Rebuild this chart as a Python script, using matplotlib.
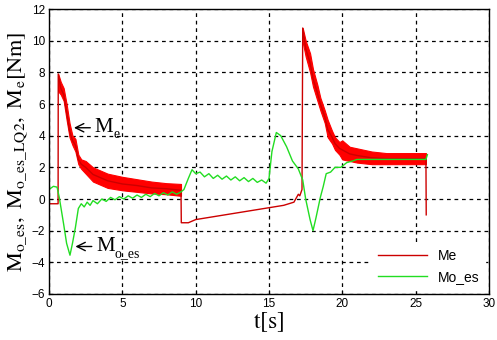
# Me / Mo_es torque plot
import numpy as np
import matplotlib
matplotlib.use('Agg')
import matplotlib.pyplot as plt

plt.rcParams['mathtext.fontset'] = 'stix'

# Me thin line (time [s], torque [Nm])
me_t = [0, 0.62, 0.63, 0.8, 1.0, 1.2, 1.4, 1.6, 1.8, 2.0, 2.2, 2.5, 3.0, 4.0, 5.0, 6.0, 7.0, 8.0,
        9.0, 9.02, 9.5, 10, 11, 12, 13, 14, 15, 16, 16.7, 17.0, 17.1, 17.25, 17.3, 17.5, 17.8,
        18.0, 18.3, 18.5, 18.8, 19.0, 19.3, 19.5, 19.8, 20.0, 20.5, 21, 22, 23, 24, 25, 25.7, 25.72]
me_v = [-0.3, -0.3, 7.9, 7.0, 6.6, 5.5, 4.3, 3.7, 3.4, 2.5, 2.2, 2.0, 1.55, 1.15, 0.95, 0.85, 0.7, 0.65,
        0.55, -1.5, -1.5, -1.3, -1.15, -1.0, -0.85, -0.7, -0.55, -0.4, -0.2, 0.3, 0.2, 0.6, 10.8, 9.5, 8.6,
        7.6, 6.7, 6.0, 5.2, 4.4, 3.9, 3.5, 3.2, 3.1, 2.85, 2.75, 2.6, 2.55, 2.55, 2.55, 2.55, -1.0]

# oscillation envelope of Me, first step
band1_t = [0.63, 0.8, 1.0, 1.2, 1.4, 1.6, 1.8, 2.0, 2.2, 2.5, 3.0, 4.0, 5.0, 6.0, 7.0, 8.0, 9.0]
band1_lo = [6.8, 6.6, 6.2, 5.0, 3.9, 3.4, 3.0, 2.2, 1.9, 1.6, 1.1, 0.7, 0.55, 0.45, 0.35, 0.3, 0.2]
band1_hi = [7.9, 7.4, 7.0, 6.0, 4.8, 4.0, 3.8, 2.8, 2.5, 2.4, 2.0, 1.6, 1.4, 1.25, 1.1, 1.0, 0.95]

# oscillation envelope of Me, second step
band2_t = [17.3, 17.5, 17.8, 18.0, 18.3, 18.5, 18.8, 19.0, 19.3, 19.5, 19.8, 20.0, 20.5, 21, 22, 23, 24, 25, 25.7]
band2_lo = [9.9, 9.0, 8.0, 7.1, 6.2, 5.6, 4.8, 3.9, 3.5, 3.1, 2.8, 2.5, 2.4, 2.3, 2.2, 2.2, 2.2, 2.2, 2.2]
band2_hi = [10.8, 10.0, 9.2, 8.2, 7.2, 6.4, 5.6, 5.0, 4.3, 3.9, 3.6, 3.7, 3.3, 3.2, 3.0, 2.9, 2.9, 2.9, 2.9]

# Mo_es
mo_t = [0, 0.3, 0.55, 0.7, 1.0, 1.2, 1.43, 1.6, 1.8, 2.0, 2.2, 2.4, 2.6, 2.8, 3.0, 3.3, 3.6, 3.9,
        4.2, 4.5, 4.8, 5.1, 5.4, 5.7, 6.0, 6.3, 6.6, 6.9, 7.2, 7.5, 7.8, 8.1, 8.4, 8.7, 9.0, 9.2,
        9.5, 9.75, 10.0, 10.3, 10.6, 10.9, 11.2, 11.5, 11.8, 12.1, 12.4, 12.7, 13.0, 13.3, 13.6,
        13.9, 14.2, 14.5, 14.8, 15.0, 15.2, 15.5, 15.8, 16.2, 16.6, 17.0, 17.3, 17.5, 17.8, 18.0,
        18.2, 18.5, 18.7, 18.9, 19.2, 19.5, 19.9, 20.3, 20.7, 21.0, 22, 23, 24, 25, 25.7, 25.8]
mo_v = [0.6, 0.8, 0.75, 0.1, -1.6, -2.8, -3.55, -2.8, -1.8, -0.6, -0.3, -0.5, -0.2, -0.4, -0.1, -0.3,
        0.0, -0.15, 0.1, -0.05, 0.15, 0.0, 0.2, 0.05, 0.25, 0.1, 0.3, 0.15, 0.35, 0.2, 0.4, 0.25, 0.45,
        0.3, 0.45, 0.6, 1.3, 1.85, 1.6, 1.7, 1.4, 1.6, 1.3, 1.5, 1.25, 1.45, 1.2, 1.4, 1.15, 1.35, 1.1,
        1.3, 1.05, 1.2, 1.0, 1.3, 3.0, 4.2, 4.0, 3.3, 2.4, 1.9, 1.2, 0.0, -1.3, -2.0,
        -1.2, 0.1, 0.8, 1.6, 1.7, 2.0, 2.0, 2.3, 2.4, 2.5, 2.5, 2.5, 2.5, 2.5, 2.5, 2.8]

fig = plt.figure(figsize=(4.97, 3.40), dpi=100)
ax = fig.add_axes([0.0986, 0.1353, 0.8853, 0.8382])

ax.fill_between(band1_t, band1_lo, band1_hi, color='#ff0000', lw=0.8, zorder=2)
ax.fill_between(band2_t, band2_lo, band2_hi, color='#ff0000', lw=0.8, zorder=2)
ax.plot(me_t, me_v, color='#cc0000', lw=1, label='Me', zorder=3)
ax.plot(mo_t, mo_v, color='#22dd22', lw=1, label='Mo_es', zorder=4)

ax.set_xlim(0, 30)
ax.set_ylim(-6, 12)
ax.set_xticks(range(0, 31, 5))
ax.set_yticks(range(-6, 13, 2))
ax.grid(True, color='black', ls=(0, (3, 3)), lw=0.9)
for s in ax.spines.values():
    s.set_linewidth(1)
    s.set_zorder(6)
ax.tick_params(direction='in', length=3, labelsize=8.5, pad=3)
for lab in ax.get_xticklabels() + ax.get_yticklabels():
    lab.set_family('Liberation Sans')

ax.set_xlabel(r'$\mathrm{t[s]}$', fontsize=17, labelpad=0)
ax.set_ylabel(r'$\mathrm{M_{o\_es},\ M_{o\_es\_LQ2},\ M_e[Nm]}$', fontsize=16, labelpad=2)

# annotations: arrow + "M" + subscript as plain serif text
serif = 'Liberation Serif'
ax.annotate('M', xy=(1.7, 4.5), xytext=(3.1, 4.5), fontsize=15, va='center', family=serif,
            arrowprops=dict(arrowstyle='->', lw=1, color='black', shrinkA=1, shrinkB=0))
ax.annotate('e', xy=(3.1, 4.5), xytext=(13.5, -5), textcoords='offset points',
            fontsize=10, va='center', family=serif)
ax.annotate('M', xy=(1.8, -3.0), xytext=(3.2, -3.0), fontsize=15, va='center', family=serif,
            arrowprops=dict(arrowstyle='->', lw=1, color='black', shrinkA=1, shrinkB=0))
ax.annotate('o_es', xy=(3.2, -3.0), xytext=(13.5, -5), textcoords='offset points',
            fontsize=10, va='center', family=serif)

leg = ax.legend(loc='lower right', frameon=True, framealpha=1, edgecolor='white', fancybox=False,
                prop={'family': 'Liberation Sans', 'size': 10}, handlelength=3.5,
                borderaxespad=0.3)
leg.set_zorder(5)

plt.savefig('out.png', dpi=100)
plt.close()
